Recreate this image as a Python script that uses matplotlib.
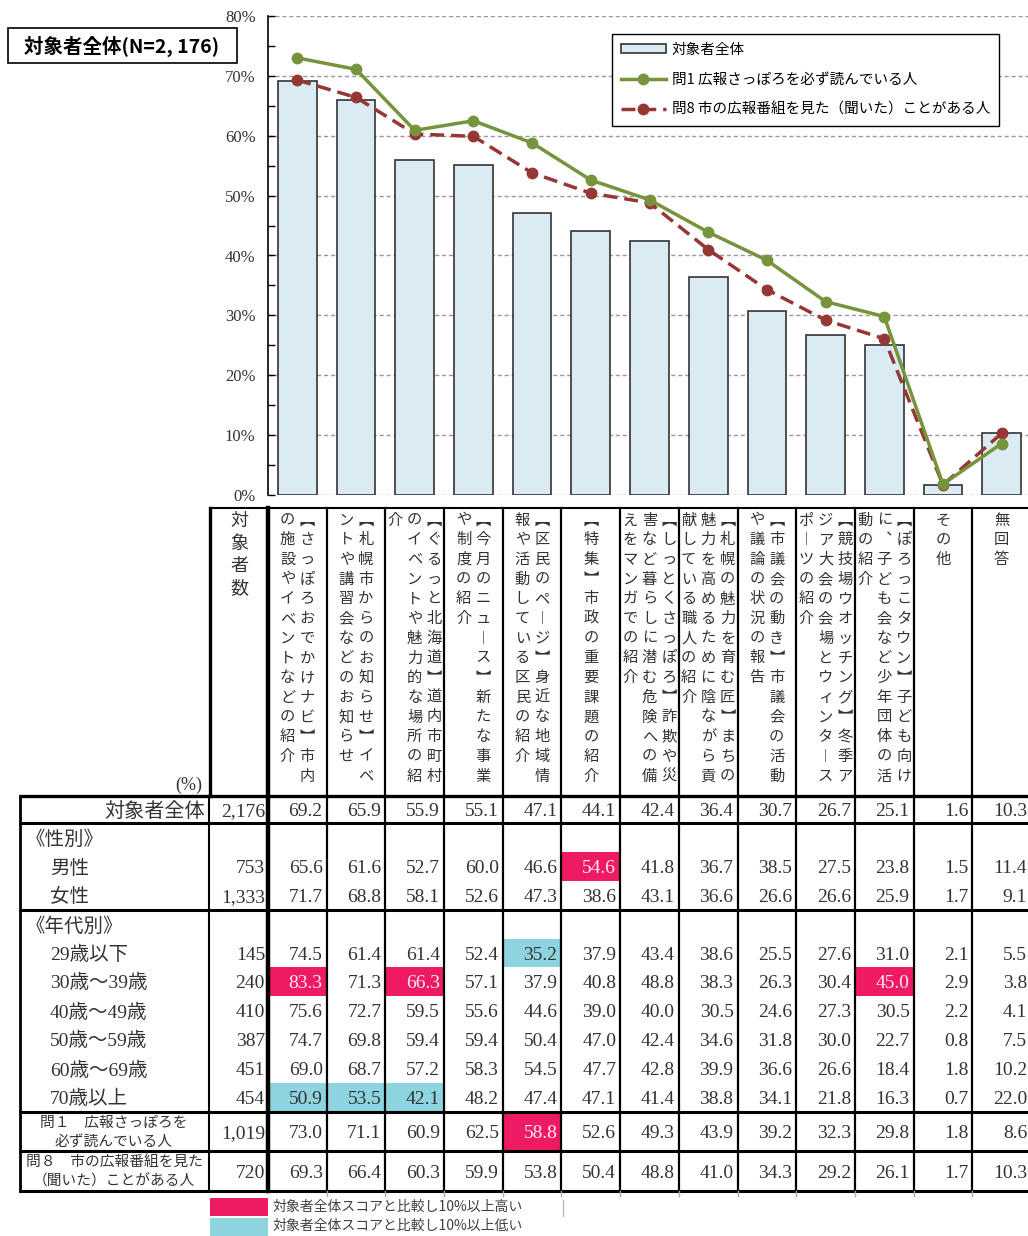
import matplotlib
matplotlib.use('Agg')
import matplotlib.pyplot as plt
import matplotlib.transforms as mtransforms
from matplotlib.patches import Rectangle
from matplotlib.ticker import MultipleLocator, FuncFormatter

plt.rcParams['font.family'] = ['Liberation Serif', 'Noto Sans CJK JP']
JP = ['Noto Sans CJK JP', 'DejaVu Sans']
SER = ['Liberation Serif', 'Noto Sans CJK JP']

# ---------------- data ----------------
categories = [
    "【さっぽろおでかけナビ】市内の施設やイベントなどの紹介",
    "【札幌市からのお知らせ】イベントや講習会などのお知らせ",
    "【ぐるっと北海道】道内市町村のイベントや魅力的な場所の紹介",
    "【今月のニュース】新たな事業や制度の紹介",
    "【区民のページ】身近な地域情報や活動している区民の紹介",
    "【特集】市政の重要課題の紹介",
    "【しっとくさっぽろ】詐欺や災害など暮らしに潜む危険への備えをマンガでの紹介",
    "【札幌の魅力を育む匠】まちの魅力を高めるために陰ながら貢献している職人の紹介",
    "【市議会の動き】市議会の活動や議論の状況の報告",
    "【競技場ウオッチング】冬季アジア大会の会場とウィンタースポーツの紹介",
    "【ぽろっこタウン】子ども向けに、子ども会など少年団体の活動の紹介",
    "その他",
    "無回答",
]

total = [69.2, 65.9, 55.9, 55.1, 47.1, 44.1, 42.4, 36.4, 30.7, 26.7, 25.1, 1.6, 10.3]
male = [65.6, 61.6, 52.7, 60.0, 46.6, 54.6, 41.8, 36.7, 38.5, 27.5, 23.8, 1.5, 11.4]
female = [71.7, 68.8, 58.1, 52.6, 47.3, 38.6, 43.1, 36.6, 26.6, 26.6, 25.9, 1.7, 9.1]
age29 = [74.5, 61.4, 61.4, 52.4, 35.2, 37.9, 43.4, 38.6, 25.5, 27.6, 31.0, 2.1, 5.5]
age30 = [83.3, 71.3, 66.3, 57.1, 37.9, 40.8, 48.8, 38.3, 26.3, 30.4, 45.0, 2.9, 3.8]
age40 = [75.6, 72.7, 59.5, 55.6, 44.6, 39.0, 40.0, 30.5, 24.6, 27.3, 30.5, 2.2, 4.1]
age50 = [74.7, 69.8, 59.4, 59.4, 50.4, 47.0, 42.4, 34.6, 31.8, 30.0, 22.7, 0.8, 7.5]
age60 = [69.0, 68.7, 57.2, 58.3, 54.5, 47.7, 42.8, 39.9, 36.6, 26.6, 18.4, 1.8, 10.2]
age70 = [50.9, 53.5, 42.1, 48.2, 47.4, 47.1, 41.4, 38.8, 34.1, 21.8, 16.3, 0.7, 22.0]
q1 = [73.0, 71.1, 60.9, 62.5, 58.8, 52.6, 49.3, 43.9, 39.2, 32.3, 29.8, 1.8, 8.6]
q8 = [69.3, 66.4, 60.3, 59.9, 53.8, 50.4, 48.8, 41.0, 34.3, 29.2, 26.1, 1.7, 10.3]

row_labels = ["対象者全体", "《性別》", "男性", "女性", "《年代別》", "29歳以下", "30歳～39歳",
              "40歳～49歳", "50歳～59歳", "60歳～69歳", "70歳以上",
              "問１　広報さっぽろを\n必ず読んでいる人", "問８　市の広報番組を見た\n（聞いた）ことがある人"]
row_counts = ["2,176", "", "753", "1,333", "", "145", "240", "410", "387", "451", "454", "1,019", "720"]
row_values = [total, None, male, female, None, age29, age30, age40, age50, age60, age70, q1, q8]

high_cells = [(2, 5), (6, 0), (6, 2), (6, 10), (11, 4)]
low_cells = [(5, 4), (10, 0), (10, 1), (10, 2)]

series_labels = ["対象者全体", "問1 広報さっぽろを必ず読んでいる人", "問8 市の広報番組を見た（聞いた）ことがある人"]
title_text = "対象者全体(N=2, 176)"
note_high = "対象者全体スコアと比較し10%以上高い"
note_low = "対象者全体スコアと比較し10%以上低い"

# ---------------- layout ----------------
W, H = 1028, 1236
fig = plt.figure(figsize=(W / 100, H / 100), dpi=100)
fig.patch.set_facecolor('white')

# overlay axes in pixel coords
ax_t = fig.add_axes([0, 0, 1, 1])
ax_t.set_xlim(0, W)
ax_t.set_ylim(H, 0)
ax_t.axis('off')
ax_t.patch.set_alpha(0)

AX_L, AX_R, AX_T, AX_B = 268, 1031, 16, 495
ax = fig.add_axes([AX_L / W, 1 - AX_B / H, (AX_R - AX_L) / W, (AX_B - AX_T) / H])
ax.patch.set_alpha(0)
n = len(categories)
xs = list(range(n))
COLW = (AX_R - AX_L) / n

BAR_C = '#DAEBF3'
GREEN = '#77933C'
RED = '#953735'
PINK = '#EE1A64'
LBLUE = '#8DD3E0'
TXT = '#333333'

bars = ax.bar(xs, total, width=0.66, color=BAR_C, edgecolor='#333333', linewidth=1.2, zorder=2)
l1, = ax.plot(xs, q1, color=GREEN, linewidth=2.5, marker='o', markersize=7.5, zorder=4)
l2, = ax.plot(xs, q8, color=RED, linewidth=2.5, linestyle=(0, (4, 2)), marker='o', markersize=7.5, zorder=3)
ax.set_xlim(-0.5, n - 0.5)
ax.set_ylim(0, 80)
ax.set_xticks([])
ax.yaxis.set_major_locator(MultipleLocator(10))
ax.yaxis.set_minor_locator(MultipleLocator(5))
ax.yaxis.set_major_formatter(FuncFormatter(lambda v, p: f"{int(v)}%"))
ax.tick_params(axis='y', which='both', direction='in', length=5, width=1, labelsize=12, pad=9,
               labelcolor=TXT)
for lab in ax.get_yticklabels():
    lab.set_family(SER)
ax.grid(axis='y', which='major', linestyle=(0, (3, 2)), color='#999999', linewidth=1)
ax.set_axisbelow(True)
for s in ['top', 'right', 'bottom']:
    ax.spines[s].set_visible(False)
ax.spines['left'].set_linewidth(1.2)

leg = ax.legend([bars, l1, l2], series_labels, loc='upper left',
                bbox_to_anchor=(612 / W, 1 - 34 / H), bbox_transform=fig.transFigure,
                borderaxespad=0, fancybox=False, edgecolor='black', framealpha=1,
                prop={'family': JP, 'size': 10.5}, handlelength=3.1, handleheight=0.5,
                labelspacing=1.1, handletextpad=0.4, borderpad=0.6)
leg.get_frame().set_linewidth(1.0)

# title box
ax_t.add_patch(Rectangle((8, 28), 229, 35, facecolor='white', edgecolor='black', linewidth=1.2))
ax_t.text(122, 46, title_text, ha='center', va='center', fontsize=14, fontweight='bold',
          family=JP, color='black')

# ---------------- table ----------------
trans = mtransforms.blended_transform_factory(ax.transData, ax_t.transData)

row_bounds = [(797, 823), (823, 852), (852, 881), (881, 910), (910, 939), (939, 967), (967, 996),
              (996, 1025), (1025, 1054), (1054, 1083), (1083, 1112), (1112, 1151), (1151, 1191)]

# highlight cells
for cells, col in ((high_cells, PINK), (low_cells, LBLUE)):
    for r, c in cells:
        y0, y1 = row_bounds[r]
        ax_t.add_patch(Rectangle((c - 0.5, y0), 1, y1 - y0, transform=trans, facecolor=col,
                                 edgecolor='none', zorder=1))

high_set = set(high_cells)
for r, (lab, cnt, vals) in enumerate(zip(row_labels, row_counts, row_values)):
    y0, y1 = row_bounds[r]
    yc = (y0 + y1) / 2
    if r == 0:
        ax_t.text(205, yc + 7, lab, ha='right', va='baseline', fontsize=14.5, family=SER, color=TXT)
    elif r in (1, 4):
        ax_t.text(26, yc + 7, lab, ha='left', va='baseline', fontsize=14, family=SER, color=TXT)
    elif r >= 11:
        l_a, l_b = lab.split("\n")
        ax_t.text(114, yc - 9, l_a, ha='center', va='center', fontsize=10.6, family=JP, color=TXT)
        ax_t.text(114, yc + 10, l_b, ha='center', va='center', fontsize=10.6, family=JP, color=TXT)
    else:
        ax_t.text(50, yc + 7, lab, ha='left', va='baseline', fontsize=14, family=SER, color=TXT)
    if cnt:
        ax_t.text(265, yc + 6.5, cnt, ha='right', va='baseline', fontsize=14, family=SER, color=TXT)
    if vals is not None:
        for c, v in enumerate(vals):
            col = '#FBE9EF' if (r, c) in high_set else TXT
            ax_t.text(c + 0.5 - 4 / COLW, yc + 6.5, f"{v:.1f}", transform=trans, ha='right',
                      va='baseline', fontsize=14, family=SER, color=col, zorder=3)

# header vertical labels
VERT = {'【': '︻', '】': '︼', 'ー': '︱', '、': '︑'}
PER = 14
for c, cat in enumerate(categories):
    chunks = [cat[i:i + PER] for i in range(0, len(cat), PER)]
    m = len(chunks)
    for j, ch in enumerate(chunks):
        dx = ((m - 1) / 2 - j) * 19.5 / COLW
        for k, s in enumerate(ch):
            ax_t.text(c + dx, 520 + k * 19.7, VERT.get(s, s), transform=trans, ha='center',
                      va='center', fontsize=11, family=JP, color=TXT)

for k, s in enumerate("対象者数"):
    ax_t.text(239, 521 + k * 22.5, s, ha='center', va='center', fontsize=13, family=JP, color=TXT)
ax_t.text(202, 785, "(%)", ha='right', va='center', fontsize=13, family=SER, color=TXT)

# table lines
def hl(y, x0, x1, lw, color='black'):
    ax_t.plot([x0, x1], [y, y], color=color, linewidth=lw, solid_capstyle='butt', zorder=5)

hl(508, 209, W + 5, 1.5)
hl(796, 19, W + 5, 2.4)
for y in (823, 910, 1112, 1151, 1191):
    hl(y, 19, W + 5, 2.2)

ax_t.plot([20, 20], [796, 1191], color='black', linewidth=2, zorder=5)
ax_t.plot([210, 210], [508, 796], color='black', linewidth=2.4, zorder=5)
ax_t.plot([209, 209], [796, 1191], color='black', linewidth=1.5, zorder=5)
ax_t.plot([-0.5, -0.5], [508, 1191], transform=trans, color='black', linewidth=3.2, zorder=5)
for i in range(1, n + 1):
    ax_t.plot([i - 0.5, i - 0.5], [508, 1191], transform=trans, color='black', linewidth=1.6, zorder=5)
    ax_t.plot([i - 0.5, i - 0.5], [1191, 1196], transform=trans, color='#AAAAAA', linewidth=1, zorder=5)

# bottom notes
ax_t.add_patch(Rectangle((210, 1198), 58, 18, facecolor=PINK, edgecolor='none'))
ax_t.add_patch(Rectangle((210, 1218), 58, 18, facecolor=LBLUE, edgecolor='none'))
ax_t.text(273, 1207, note_high, ha='left', va='center', fontsize=10, family=JP, color='#404040')
ax_t.text(273, 1226, note_low, ha='left', va='center', fontsize=10, family=JP, color='#404040')
ax_t.plot([563, 563], [1200, 1216], color='#BBBBBB', linewidth=1)

fig.savefig('out.png', dpi=100, facecolor='white')
